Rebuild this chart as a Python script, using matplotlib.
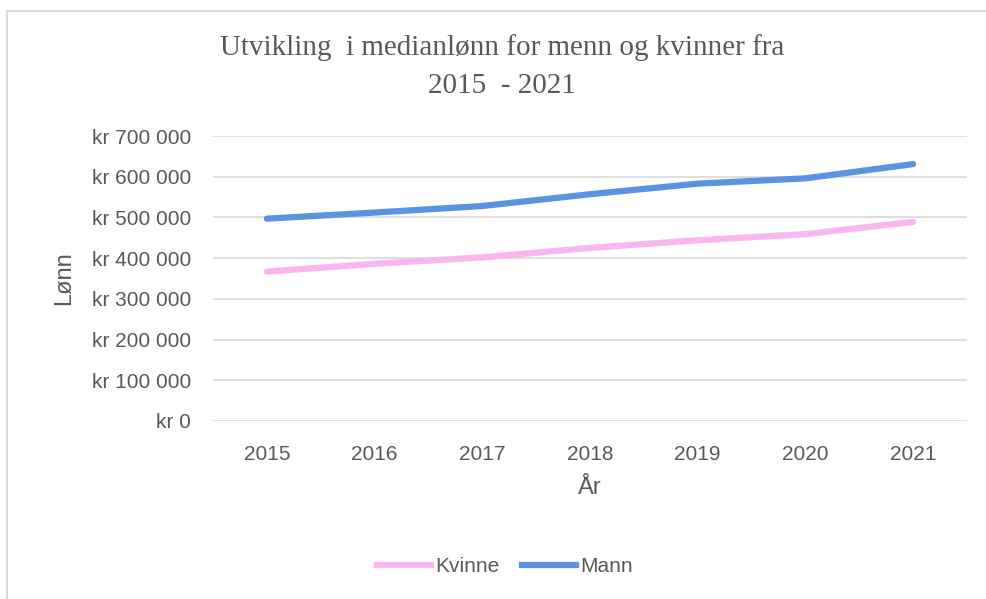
import matplotlib
matplotlib.use("Agg")
import matplotlib.pyplot as plt
from matplotlib.ticker import FuncFormatter, MultipleLocator
from matplotlib.lines import Line2D

plt.rcParams["font.family"] = ["Liberation Sans", "DejaVu Sans"]

# data
years = [2015, 2016, 2017, 2018, 2019, 2020, 2021]
kvinne = [367000, 386000, 402000, 425000, 444000, 459000, 489000]
mann = [497000, 512000, 528000, 557000, 583000, 596000, 631000]

grey = "#595959"
grid_col = "#d9d9d9"

fig = plt.figure(figsize=(9.86, 5.99), dpi=100)
ax = fig.add_axes([213 / 986, 1 - 421 / 599, 754 / 986, 285 / 599])

ax.plot(years, kvinne, color="#fbb6f0", lw=4.5, solid_capstyle="round",
        solid_joinstyle="round", label="Kvinne", zorder=3)
ax.plot(years, mann, color="#5b92e2", lw=4.5, solid_capstyle="round",
        solid_joinstyle="round", label="Mann", zorder=3)

ax.set_xlim(2014.5, 2021.5)
ax.set_ylim(0, 700000)
ax.set_xticks(years)
ax.yaxis.set_major_locator(MultipleLocator(100000))


def kr(v, pos):
    s = f"{int(v):,}".replace(",", " ")
    return "kr " + s


ax.yaxis.set_major_formatter(FuncFormatter(kr))
ax.grid(axis="y", color=grid_col, lw=1.2)
ax.set_axisbelow(True)
for s in ax.spines.values():
    s.set_visible(False)
ax.tick_params(axis="both", length=0, labelsize=15, colors=grey)
ax.tick_params(axis="y", pad=16)
ax.tick_params(axis="x", pad=17)

ax.set_xlabel("År", fontsize=17, color=grey, labelpad=10)
ax.set_ylabel("Lønn", fontsize=17, color=grey, labelpad=12)

# tittel
fig.text(502 / 986, 1 - 48 / 599, "Utvikling  i medianlønn for menn og kvinner fra",
         ha="center", va="center", fontsize=21, color=grey,
         family=["Liberation Serif", "DejaVu Serif"])
fig.text(502 / 986, 1 - 86 / 599, "2015  - 2021",
         ha="center", va="center", fontsize=21, color=grey,
         family=["Liberation Serif", "DejaVu Serif"])

handles = [Line2D([], [], color="#fbb6f0", lw=4.5),
           Line2D([], [], color="#5b92e2", lw=4.5)]
fig.legend(handles, ["Kvinne", "Mann"], loc="center", bbox_to_anchor=(505 / 986, 1 - 567 / 599),
           ncol=2, frameon=False, fontsize=15, labelcolor=grey,
           handlelength=2.6, handletextpad=0.2, columnspacing=1.1)

# ramme rundt figuren
fig.add_artist(Line2D([7 / 986, 7 / 986], [0, 1 - 11 / 599], color=grid_col, lw=1.5,
                      transform=fig.transFigure))
fig.add_artist(Line2D([7 / 986, 1], [1 - 11 / 599, 1 - 11 / 599], color=grid_col, lw=1.5,
                      transform=fig.transFigure))

fig.savefig("out.png", dpi=100)
